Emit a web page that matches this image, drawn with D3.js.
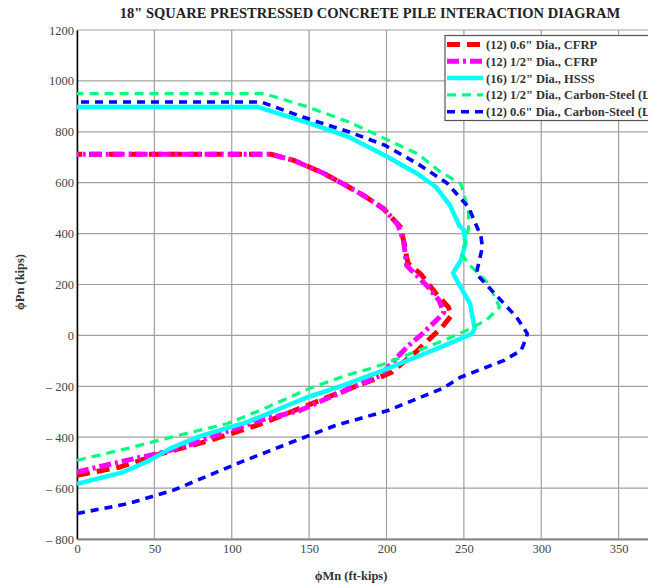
<!DOCTYPE html>
<html>
<head>
<meta charset="utf-8">
<script src="https://cdn.jsdelivr.net/npm/d3@7"></script>
<style>
  html, body { margin: 0; padding: 0; background: #fff; overflow: hidden; }
  svg { display: block; }
</style>
</head>
<body>
<svg id="chart" width="648" height="584"></svg>
<script>
// Interaction curves: [phiMn (ft-kips), phiPn (kips)], tension end to compression end
const cfrp06 = [
  [0, -550], [28, -517], [54, -465], [84, -416], [118, -350], [148, -277],
  [170, -223], [196, -164], [203, -146], [220, -60], [229, -7], [236, 33],
  [242, 79], [240, 111], [232, 164], [222, 242], [214, 282], [213, 308],
  [212, 347], [209, 426], [207, 439], [198, 498], [187, 543], [174, 589],
  [159, 638], [140, 688], [125, 712], [0, 712]
];
const cfrp12 = [
  [0, -537], [32, -491], [52, -465], [75, -426], [84, -404], [118, -334],
  [144, -295], [166, -236], [196, -158], [209, -72], [215, -36], [222, 0],
  [231, 52], [237, 90], [234, 138], [226, 196], [213, 275], [211, 373],
  [207, 439], [198, 498], [187, 543], [174, 589], [159, 638], [140, 688],
  [125, 712], [0, 712]
];
const hsss12 = [
  [0, -583], [30, -537], [47, -491], [60, -445], [80, -395], [110, -341],
  [148, -245], [172, -196], [198, -137], [235, -46], [255, 6], [257, 26],
  [254, 125], [246, 210], [243, 245], [248, 295], [251, 360], [250, 413],
  [247, 432], [241, 511], [232, 583], [220, 635], [199, 707], [176, 779],
  [148, 838], [117, 897], [0, 897]
];
const steel12 = [
  [0, -491], [32, -445], [64, -395], [97, -347], [120, -290], [150, -209],
  [174, -157], [189, -131], [199, -111], [237, -20], [254, 26], [265, 62],
  [273, 111], [270, 150], [266, 203], [254, 275], [248, 321], [250, 350],
  [253, 420], [253, 491], [248, 596], [235, 642], [220, 714], [199, 773],
  [176, 838], [148, 900], [121, 950], [0, 950]
];
const steel06 = [
  [0, -700], [33, -661], [62, -609], [88, -543], [107, -495], [139, -419],
  [167, -354], [201, -295], [236, -209], [248, -164], [276, -98], [287, -59],
  [290, -15], [291, 7], [284, 72], [271, 157], [258, 242], [260, 295],
  [262, 347], [261, 390], [253, 504], [239, 599], [220, 675], [199, 747],
  [176, 799], [146, 858], [119, 917], [0, 917]
];

const seriesNames = [
  '(12) 0.6" Dia., CFRP',
  '(12) 1/2" Dia., CFRP',
  '(16) 1/2" Dia., HSSS',
  '(12) 1/2" Dia., Carbon-Steel (Low-Relaxation)',
  '(12) 0.6" Dia., Carbon-Steel (Low-Relaxation)'
];
const seriesData = [cfrp06, cfrp12, hsss12, steel12, steel06];

const xTicks = [0, 50, 100, 150, 200, 250, 300, 350];
const yTicks = [-800, -600, -400, -200, 0, 200, 400, 600, 800, 1000, 1200];

const titleText = '18" SQUARE PRESTRESSED CONCRETE PILE INTERACTION DIAGRAM';
const xLabel = 'ϕMn (ft-kips)';
const yLabel = 'ϕPn (kips)';

// Line styles for each series
const styles = [
  { color: '#ff0000', width: 5,   dash: '13,7' },
  { color: '#ff00ff', width: 5,   dash: '12,4,3,4' },
  { color: '#00ffff', width: 4.5, dash: null },
  { color: '#00ff80', width: 3.2, dash: '9,6' },
  { color: '#0000ff', width: 3.6, dash: '8,6' }
];

const svg = d3.select('#chart');
const plotLeft = 77, plotRight = 696, plotTop = 30, plotBottom = 539;

const x = d3.scaleLinear().domain([0, 400]).range([plotLeft, plotRight]);
const y = d3.scaleLinear().domain([-800, 1200]).range([plotBottom, plotTop]);

const serif = '"Liberation Serif", "Times New Roman", serif';

// Title
svg.append('text')
  .attr('x', 370).attr('y', 18)
  .attr('text-anchor', 'middle')
  .attr('font-family', serif)
  .attr('font-weight', 'bold')
  .attr('font-size', 14.5)
  .attr('fill', '#222')
  .text(titleText);

// Grid (extends to the right edge of the plot, beyond the last labelled tick)
const gridX = xTicks.concat([400]);
const grid = svg.append('g');
grid.selectAll('line.v').data(gridX).enter().append('line')
  .attr('x1', d => x(d)).attr('x2', d => x(d))
  .attr('y1', plotTop).attr('y2', plotBottom)
  .attr('stroke', '#a0a0a0').attr('stroke-width', 1.2);
grid.selectAll('line.h').data(yTicks).enter().append('line')
  .attr('x1', plotLeft).attr('x2', plotRight)
  .attr('y1', d => y(d)).attr('y2', d => y(d))
  .attr('stroke', '#a0a0a0').attr('stroke-width', 1.2);

// Axes
const fmt = v => v < 0 ? '\u2013 ' + Math.abs(v) : String(v);

const yAxis = svg.append('g')
  .attr('transform', `translate(${plotLeft},0)`)
  .call(d3.axisLeft(y).tickValues(yTicks).tickSize(0).tickPadding(3).tickFormat(fmt));
yAxis.select('.domain').attr('stroke', '#000').attr('stroke-width', 1.5);
yAxis.selectAll('text')
  .attr('font-family', serif).attr('font-size', 12.5).attr('fill', '#444');

const xAxis = svg.append('g')
  .attr('transform', `translate(0,${plotBottom})`)
  .call(d3.axisBottom(x).tickValues(xTicks).tickSize(0).tickPadding(5).tickFormat(fmt));
xAxis.select('.domain').attr('stroke', '#888').attr('stroke-width', 2);
xAxis.selectAll('text')
  .attr('font-family', serif).attr('font-size', 12.5).attr('fill', '#444');

// Axis titles
svg.append('text')
  .attr('x', 351).attr('y', 580)
  .attr('text-anchor', 'middle')
  .attr('font-family', serif).attr('font-weight', 'bold')
  .attr('font-size', 12.5).attr('fill', '#333')
  .text(xLabel);
svg.append('text')
  .attr('transform', 'translate(24,282) rotate(-90)')
  .attr('text-anchor', 'middle')
  .attr('font-family', serif).attr('font-weight', 'bold')
  .attr('font-size', 12.5).attr('fill', '#333')
  .text(yLabel);

// Curves
svg.append('clipPath').attr('id', 'plot-clip')
  .append('rect').attr('x', plotLeft).attr('y', plotTop)
  .attr('width', plotRight - plotLeft).attr('height', plotBottom - plotTop);

const line = d3.line().x(d => x(d[0])).y(d => y(d[1]));
const curves = svg.append('g').attr('clip-path', 'url(#plot-clip)');
seriesData.forEach((data, i) => {
  const s = styles[i];
  curves.append('path')
    .datum(data)
    .attr('d', line)
    .attr('fill', 'none')
    .attr('stroke', s.color)
    .attr('stroke-width', s.width)
    .attr('stroke-linejoin', 'round')
    .attr('stroke-dasharray', s.dash);
});

// Legend
const lg = svg.append('g');
lg.append('rect')
  .attr('x', 445).attr('y', 35.5)
  .attr('width', 260).attr('height', 85)
  .attr('fill', '#fff').attr('stroke', '#555').attr('stroke-width', 1.2);
seriesNames.forEach((name, i) => {
  const s = styles[i];
  const ly = 44.5 + i * 16.8;
  lg.append('line')
    .attr('x1', 447).attr('x2', 483)
    .attr('y1', ly).attr('y2', ly)
    .attr('stroke', s.color)
    .attr('stroke-width', s.width)
    .attr('stroke-dasharray', s.dash);
  lg.append('text')
    .attr('x', 486).attr('y', ly + 4.5)
    .attr('font-family', serif).attr('font-weight', 'bold')
    .attr('font-size', 12.5).attr('fill', '#333')
    .text(name);
});
</script>
</body>
</html>
